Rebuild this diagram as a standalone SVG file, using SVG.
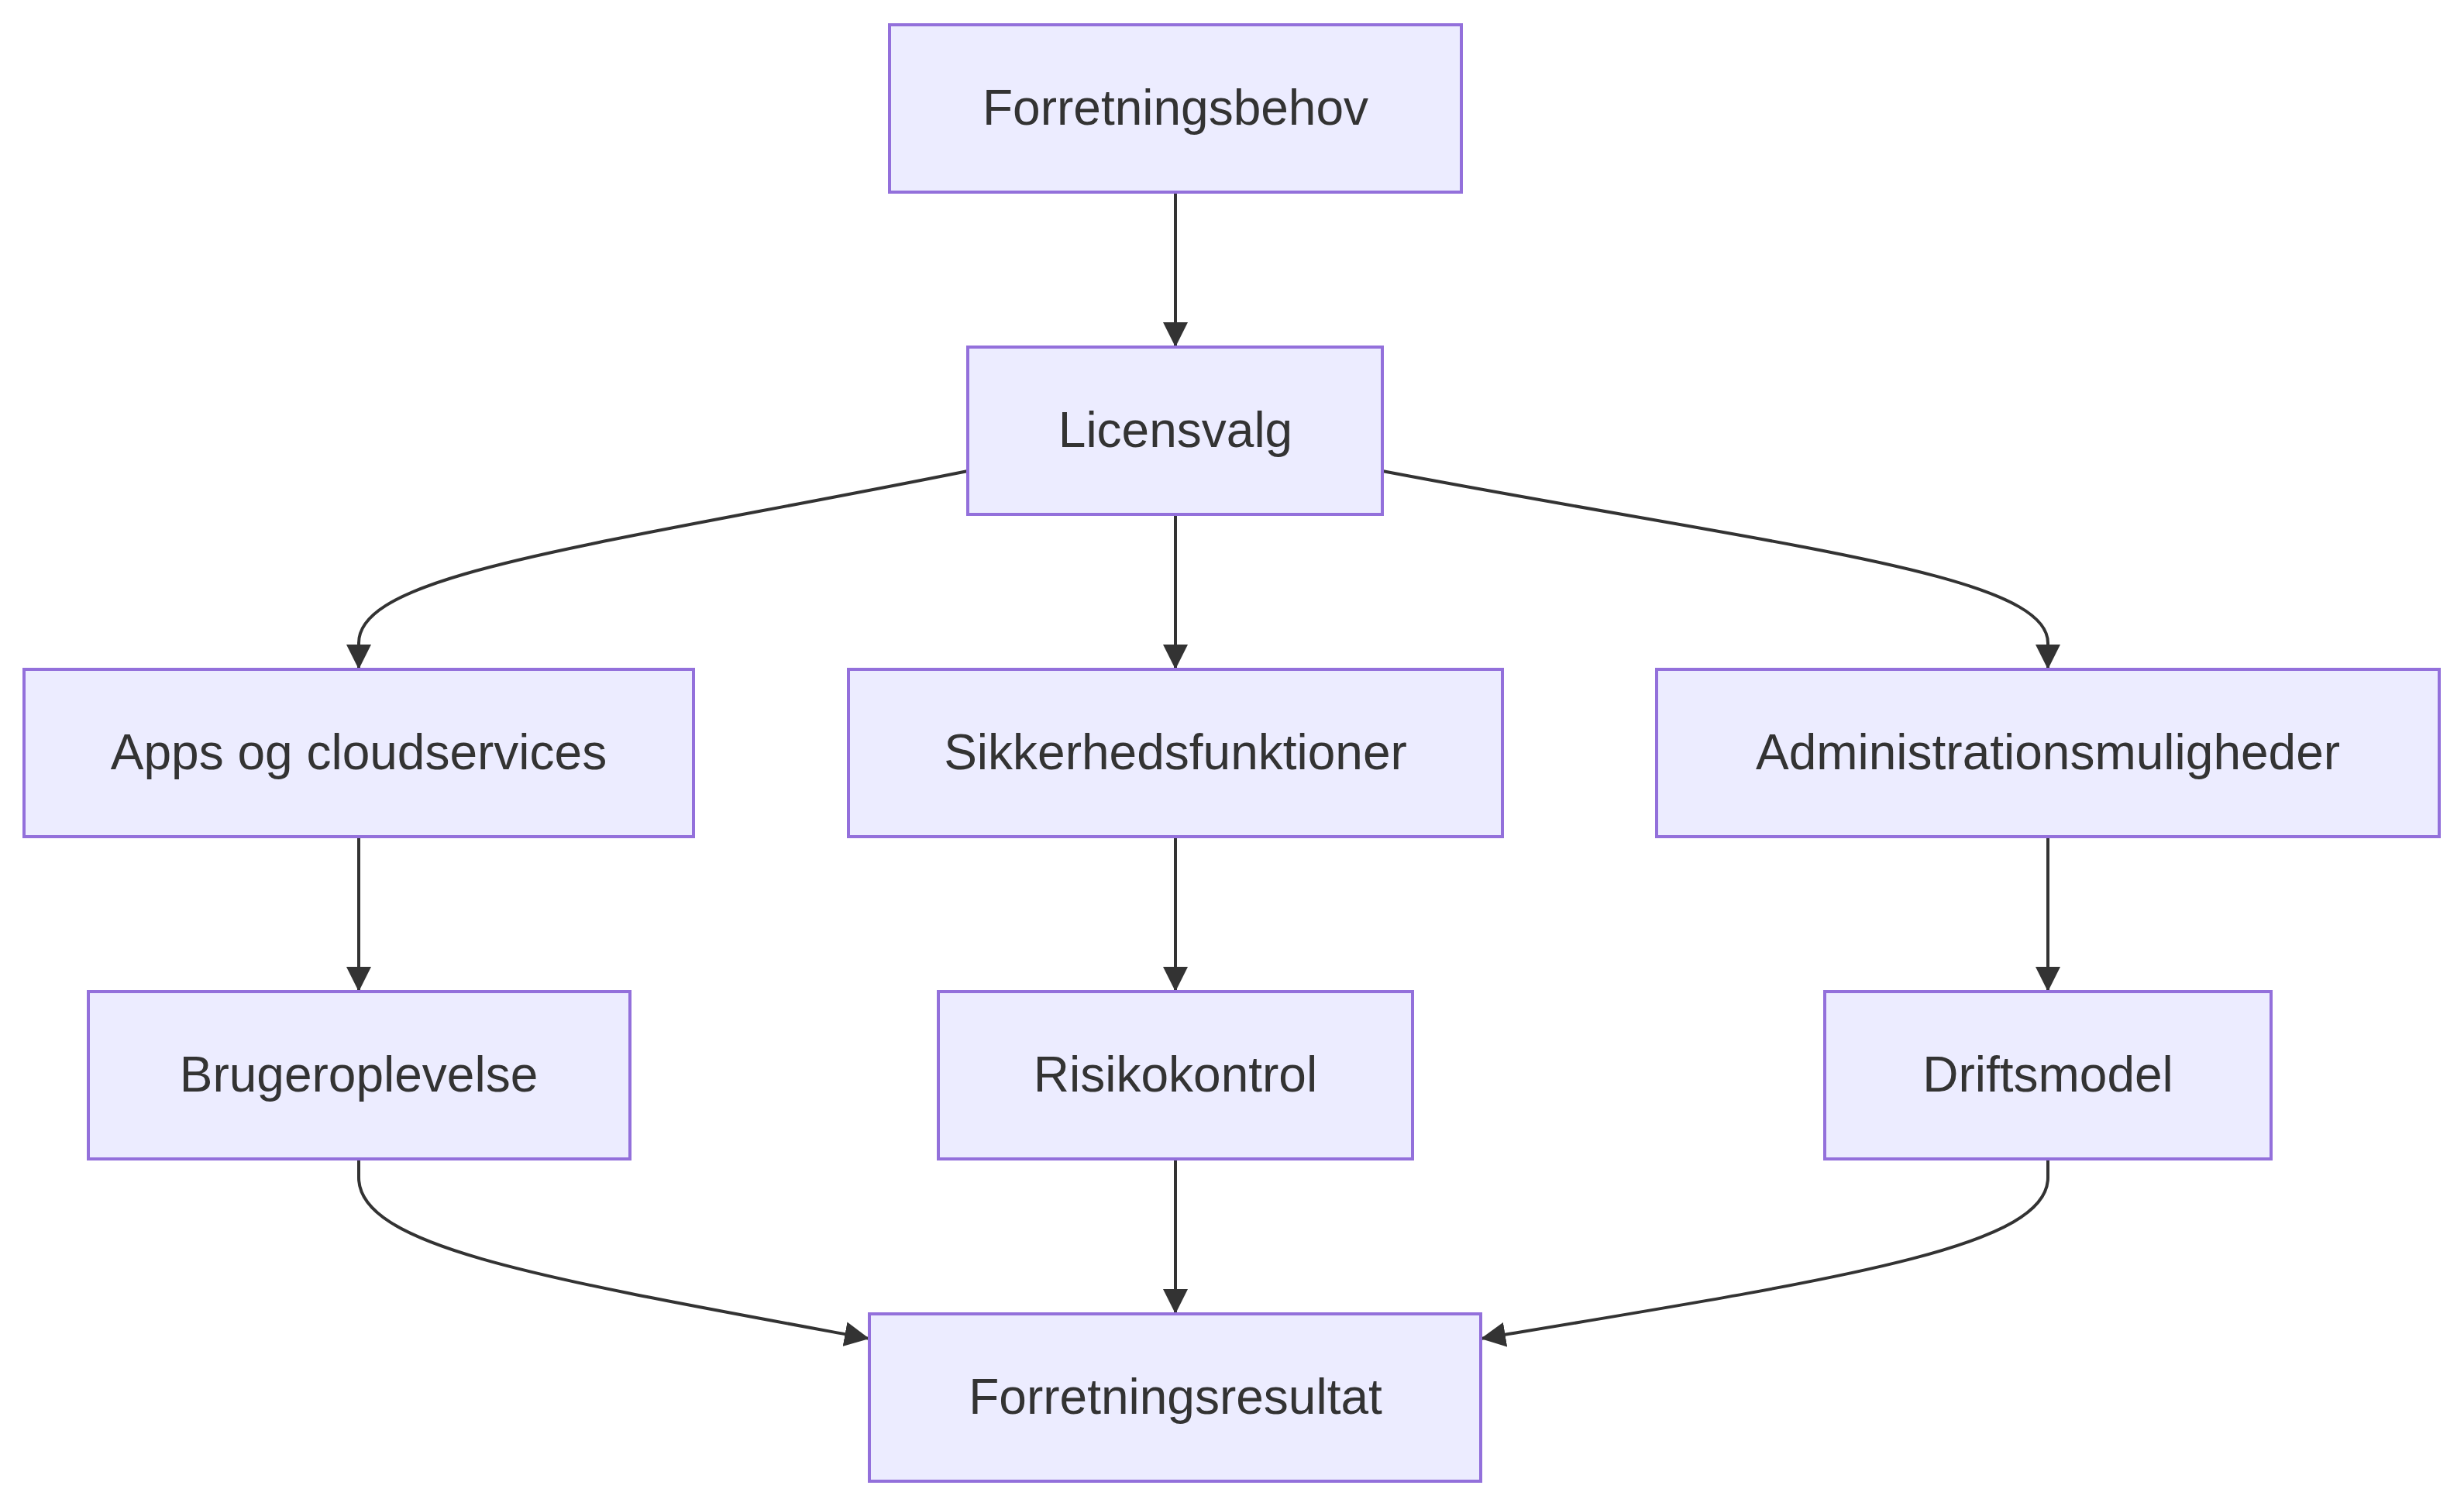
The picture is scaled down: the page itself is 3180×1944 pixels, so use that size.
<svg xmlns="http://www.w3.org/2000/svg" width="3180" height="1944" viewBox="0 0 3180 1944">
<defs>
<style>
.node rect{fill:#ECECFF;stroke:#9370DB;stroke-width:4}
.node text{font-family:"trebuchet ms","Liberation Sans",Arial,sans-serif;font-size:64px;fill:#333333;text-anchor:middle}
.edges path{fill:none;stroke:#333333;stroke-width:4}
</style>
<marker id="arrow" viewBox="0 0 10 10" refX="10" refY="5" markerUnits="userSpaceOnUse" markerWidth="32" markerHeight="32" orient="auto">
<path d="M0,0 L10,5 L0,10 z" fill="#333333"/>
</marker>
</defs>
<rect width="3180" height="1944" fill="#ffffff"/>
<g class="edges">
<path d="M1517,248 L1517,448" marker-end="url(#arrow)"/>
<path d="M1517,664 L1517,864" marker-end="url(#arrow)"/>
<path d="M1249,608 C760,706 463,740 463,830 L463,864" marker-end="url(#arrow)"/>
<path d="M1784,608 C2300,706 2643,740 2643,830 L2643,864" marker-end="url(#arrow)"/>
<path d="M463,1080 L463,1280" marker-end="url(#arrow)"/>
<path d="M1517,1080 L1517,1280" marker-end="url(#arrow)"/>
<path d="M2643,1080 L2643,1280" marker-end="url(#arrow)"/>
<path d="M1517,1496 L1517,1696" marker-end="url(#arrow)"/>
<path d="M463,1496 L463,1520 C463,1610 700,1650 1122,1728" marker-end="url(#arrow)"/>
<path d="M2643,1496 L2643,1520 C2643,1610 2380,1650 1911,1728" marker-end="url(#arrow)"/>
</g>
<g id="node-forretningsbehov" class="node"><rect x="1148" y="32" width="738" height="216"/><text x="1517" y="161">Forretningsbehov</text></g>
<g id="node-licensvalg" class="node"><rect x="1249" y="448" width="535" height="216"/><text x="1517" y="577">Licensvalg</text></g>
<g id="node-apps" class="node"><rect x="31" y="864" width="864" height="216"/><text x="463" y="993">Apps og cloudservices</text></g>
<g id="node-sikkerhed" class="node"><rect x="1095" y="864" width="844" height="216"/><text x="1517" y="993">Sikkerhedsfunktioner</text></g>
<g id="node-admin" class="node"><rect x="2138" y="864" width="1010" height="216"/><text x="2643" y="993">Administrationsmuligheder</text></g>
<g id="node-bruger" class="node"><rect x="114" y="1280" width="699" height="216"/><text x="463" y="1409">Brugeroplevelse</text></g>
<g id="node-risiko" class="node"><rect x="1211" y="1280" width="612" height="216"/><text x="1517" y="1409">Risikokontrol</text></g>
<g id="node-drift" class="node"><rect x="2355" y="1280" width="576" height="216"/><text x="2643" y="1409">Driftsmodel</text></g>
<g id="node-resultat" class="node"><rect x="1122" y="1696" width="789" height="216"/><text x="1517" y="1825">Forretningsresultat</text></g>
</svg>
